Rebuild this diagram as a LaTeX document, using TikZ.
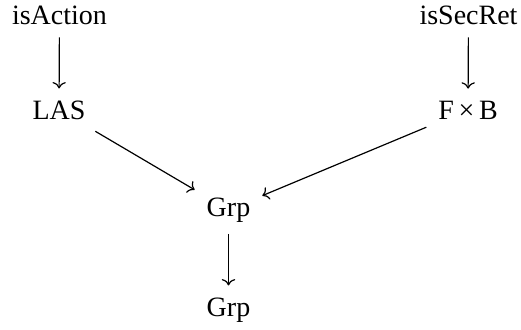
\documentclass[tikz,border=0pt]{standalone}
\usepackage{fontspec}
\setmainfont{Liberation Serif}
\usetikzlibrary{arrows.meta}
\begin{document}
\begin{tikzpicture}[
  obj/.style={anchor=base, inner sep=12pt, outer sep=0pt, font=\fontsize{28}{32}\selectfont},
  arr/.style={-{Computer Modern Rightarrow[scale=1.5]}, line width=1.2pt}
]
\useasboundingbox (0,0) rectangle (521pt,-329pt);
\node[obj] (a) at (59.5pt,-25pt) {isAction};
\node[obj] (b) at (468.5pt,-25pt) {isSecRet};
\node[obj] (c) at (59pt,-119pt) {LAS};
\node[obj] (d) at (468pt,-119pt) {F\,×\,B};
\node[obj] (e) at (228.5pt,-216pt) {Grp};
\node[obj] (f) at (228.5pt,-316pt) {Grp};
\draw[arr] (a) -- (c);
\draw[arr] (b) -- (d);
\draw[arr] (c) -- (e);
\draw[arr] (d) -- (e);
\draw[arr] (e) -- (f);
\end{tikzpicture}
\end{document}
